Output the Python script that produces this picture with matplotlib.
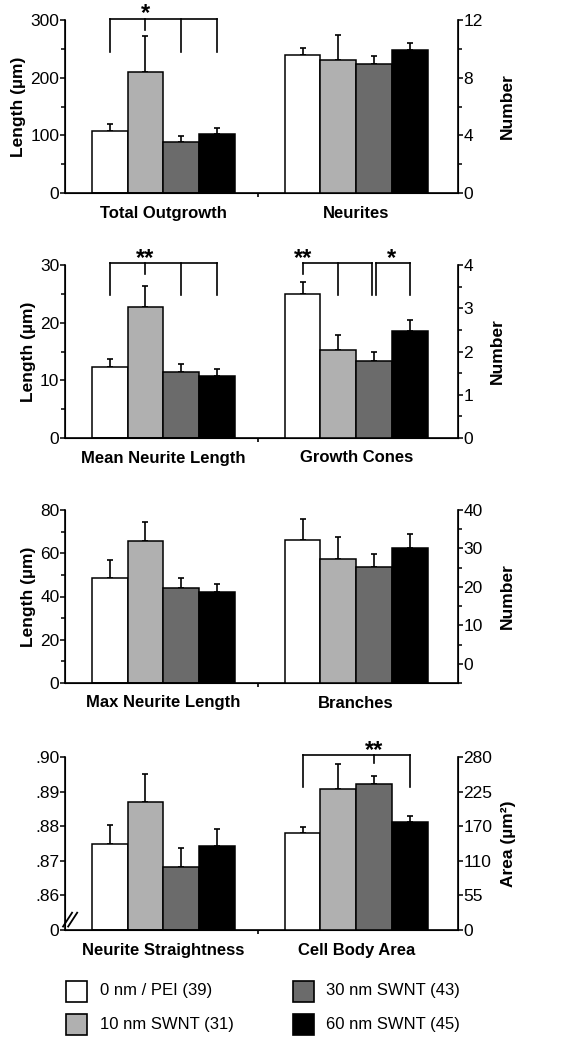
import numpy as np
import matplotlib
matplotlib.use('Agg')
from matplotlib import pyplot as plt
from matplotlib.patches import Rectangle

plt.rcParams['font.family'] = ['Liberation Sans', 'DejaVu Sans']

# groups / colors
groups = ['0 nm / PEI (39)', '10 nm SWNT (31)', '30 nm SWNT (43)', '60 nm SWNT (45)']
colors = ['#ffffff', '#b0b0b0', '#6b6b6b', '#000000']

# panel 1
outgrowth = [107, 209, 88, 102]
outgrowth_err = [12, 63, 10, 10]
neurites = [9.55, 9.2, 8.95, 9.93]
neurites_err = [0.5, 1.77, 0.57, 0.46]

# panel 2
mean_len = [12.3, 22.8, 11.4, 10.8]
mean_len_err = [1.45, 3.5, 1.4, 1.1]
cones = [3.33, 2.04, 1.77, 2.48]
cones_err = [0.27, 0.35, 0.23, 0.24]

# panel 3
max_len = [48.6, 65.6, 43.8, 42.3]
max_len_err = [8.4, 9.0, 4.8, 3.7]
branches = [32.3, 27.3, 25.1, 30.2]
branches_err = [5.4, 5.8, 3.5, 3.5]

# panel 4
straight = [0.8748, 0.8869, 0.8681, 0.8743]
straight_err = [0.0055, 0.0081, 0.0055, 0.0048]
area = [157, 228, 236, 174.5]
area_err = [10, 40, 14, 10.5]

panel_labels = [('Total Outgrowth', 'Neurites'),
                ('Mean Neurite Length', 'Growth Cones'),
                ('Max Neurite Length', 'Branches'),
                ('Neurite Straightness', 'Cell Body Area')]

x1 = np.array([1.25, 2.25, 3.25, 4.25])
x2 = np.array([6.65, 7.65, 8.65, 9.65])
mid = 5.4

fig = plt.figure(figsize=(5.67, 10.5), dpi=100)
L, W = 65 / 567, 393 / 567
tops = [20, 265, 510, 757]
H = 173
FS = 12.5


def bars(ax, x, vals, errs, base=0):
    ax.bar(x, np.array(vals) - base, bottom=base, width=1.0, color=colors,
           edgecolor='black', linewidth=1.1, zorder=2)
    ax.errorbar(x, vals, yerr=[np.zeros(4), errs], fmt='none', ecolor='black',
                elinewidth=1.2, capsize=2, capthick=1.2, zorder=1)


def bracket(ax, xs, y, lows, star, star_x):
    ax.plot([xs[0], xs[-1]], [y, y], color='black', lw=1.2, clip_on=False)
    for xx, lo in zip(xs, lows):
        ax.plot([xx, xx], [y, lo], color='black', lw=1.2, clip_on=False)
    ax.annotate(star, (star_x, y), xytext=(0, -1), textcoords='offset points',
                ha='center', va='baseline', fontsize=17, fontweight='bold',
                annotation_clip=False)


def setup(ax, ax2, labels):
    ax.set_xlim(0, 11)
    ax.spines['top'].set_visible(False)
    ax2.spines['top'].set_visible(False)
    for s in ['left', 'bottom']:
        ax.spines[s].set_linewidth(1.2)
    ax2.spines['right'].set_linewidth(1.2)
    ax.set_xticks([x1.mean(), x2.mean()])
    ax.set_xticklabels(labels, fontsize=12, fontweight='bold')
    ax.tick_params(axis='x', length=0, pad=9)
    ax.set_xticks([mid], minor=True)
    ax.tick_params(axis='x', which='minor', length=3, width=1.2, direction='out')
    for a in (ax, ax2):
        a.tick_params(axis='y', which='both', direction='out', width=1.1,
                      labelsize=FS, pad=0.5)
        a.tick_params(axis='y', which='major', length=3.5)
        a.tick_params(axis='y', which='minor', length=3)


def labels_lr(ax, ax2, right='Number'):
    ax.set_ylabel('Length (µm)', fontsize=FS, fontweight='bold', labelpad=3)
    ax2.set_ylabel(right, fontsize=FS, fontweight='bold', rotation=90, labelpad=12)


axes = []
for i, t in enumerate(tops):
    ax = fig.add_axes([L, 1 - (t + H) / 1050, W, H / 1050])
    ax2 = ax.twinx()
    setup(ax, ax2, panel_labels[i])
    axes.append((ax, ax2))

# panel 1
ax, ax2 = axes[0]
bars(ax, x1, outgrowth, outgrowth_err)
bars(ax2, x2, neurites, neurites_err)
ax.set_ylim(0, 300)
ax.set_yticks([0, 100, 200, 300])
ax.set_yticks([50, 150, 250], minor=True)
ax2.set_ylim(0, 12)
ax2.set_yticks([0, 4, 8, 12])
ax2.set_yticks([2, 6, 10], minor=True)
labels_lr(ax, ax2)
bracket(ax, list(x1), 302, [245, 283, 245, 245], '*', x1[1])

# panel 2
ax, ax2 = axes[1]
bars(ax, x1, mean_len, mean_len_err)
bars(ax2, x2, cones, cones_err)
ax.set_ylim(0, 30)
ax.set_yticks([0, 10, 20, 30])
ax.set_yticks([5, 15, 25], minor=True)
ax2.set_ylim(0, 4)
ax2.set_yticks([0, 1, 2, 3, 4])
ax2.set_yticks([0.5, 1.5, 2.5, 3.5], minor=True)
labels_lr(ax, ax2)
bracket(ax, list(x1), 30.3, [24.8, 28.5, 24.8, 24.8], '**', x1[1])
bracket(ax2, [x2[0], x2[1], x2[2] - 0.06], 4.04, [3.8, 3.3, 3.3], '**', x2[0])
bracket(ax2, [x2[2] + 0.06, x2[3]], 4.04, [3.3, 3.3], '*', (x2[2] + x2[3]) / 2)

# panel 3
ax, ax2 = axes[2]
bars(ax, x1, max_len, max_len_err)
bars(ax2, x2, branches, branches_err, base=-5)
ax.set_ylim(0, 80)
ax.set_yticks([0, 20, 40, 60, 80])
ax.set_yticks([10, 30, 50, 70], minor=True)
ax2.set_ylim(-5, 40)
ax2.set_yticks([0, 10, 20, 30, 40])
ax2.set_yticks([-5, 5, 15, 25, 35], minor=True)
labels_lr(ax, ax2)

# panel 4
ax, ax2 = axes[3]
bars(ax, x1, straight, straight_err, base=0.85)
bars(ax2, x2, area, area_err)
ax.set_ylim(0.85, 0.90)
ax.set_yticks([0.85, 0.86, 0.87, 0.88, 0.89, 0.90])
ax.set_yticklabels(['0', '.86', '.87', '.88', '.89', '.90'])
ax2.set_ylim(0, 280)
ax2.set_yticks([0, 56, 112, 168, 224, 280])
ax2.set_yticklabels(['0', '55', '110', '170', '225', '280'])
ax2.set_ylabel('Area (µm²)', fontsize=FS, fontweight='bold', rotation=90, labelpad=6)
for dx in [0.0, 0.013]:
    ax.plot([-0.005 + dx, 0.018 + dx], [0.02, 0.10], transform=ax.transAxes,
            color='black', lw=1.3, clip_on=False)
bracket(ax2, [x2[0], x2[2], x2[3]], 283, [231, 270, 231], '**', x2[2])

# legend
leg_rows = [991, 1024]
leg_cols = [(66, 100), (293, 326)]
for k, name in enumerate(groups):
    c = k // 2
    r = k % 2
    sx, tx = leg_cols[c]
    y = leg_rows[r]
    fig.patches.append(Rectangle((sx / 567, 1 - (y + 10.5) / 1050), 21 / 567, 21 / 1050,
                                 transform=fig.transFigure, facecolor=colors[k],
                                 edgecolor='black', linewidth=1.2))
    fig.text(tx / 567, 1 - y / 1050, name, fontsize=12, va='center', ha='left')

fig.savefig('out.png', dpi=100)
